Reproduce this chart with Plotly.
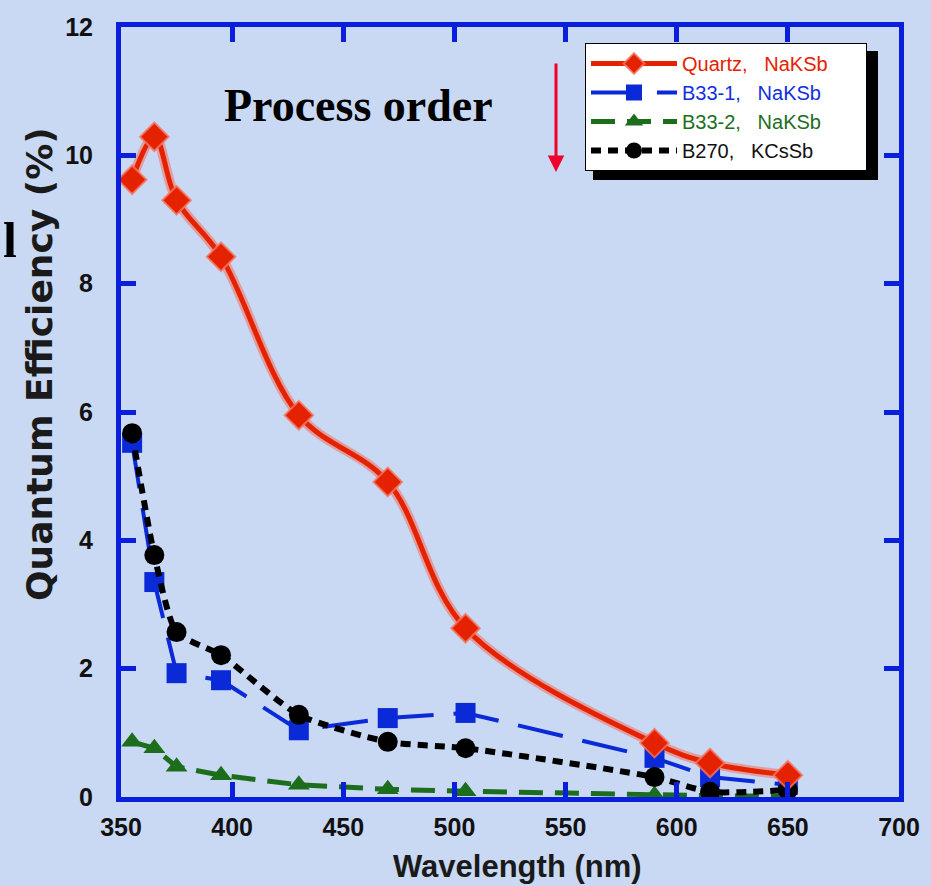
import plotly.graph_objects as go

# ---- data ----
wavelength = [355, 365, 375, 395, 430, 470, 505, 590, 615, 650]
quartz_naksb = [9.62, 10.29, 9.30, 8.42, 5.95, 4.91, 2.63, 0.84, 0.53, 0.34]
b33_1_naksb = [5.52, 3.35, 1.93, 1.82, 1.04, 1.23, 1.31, 0.61, 0.31, 0.19]
b33_2_naksb = [0.86, 0.76, 0.47, 0.34, 0.19, 0.12, 0.09, 0.03, 0.02, 0.01]
b270_kcssb = [5.67, 3.77, 2.57, 2.21, 1.28, 0.86, 0.76, 0.31, 0.08, 0.11]

series_names = ["Quartz, NaKSb", "B33-1, NaKSb", "B33-2, NaKSb", "B270, KCsSb"]

x_ticks = [350, 400, 450, 500, 550, 600, 650, 700]
y_ticks = [0, 2, 4, 6, 8, 10, 12]

W, H = 931, 886
L, R, T, B = 121, 32, 27, 89
PW, PH = W - L - R, H - T - B


def px(x):
    return (x - L) / PW


def py(y):
    return (H - B - y) / PH


def legend_label(name, color):
    a, b = name.split(", ")
    return (f"<span style='color:{color}'>{a},\u00a0\u00a0\u00a0{b}</span>"
            + "\u00a0" * 6)


BG = "#c9d8f3"
BLUE_AX = "#0a1fdc"
RED = "#e42200"
BLUE = "#0a2ad8"
GREEN = "#1c6e1c"
BLACK = "#000000"

fig = go.Figure()

# halo under the quartz curve
fig.add_trace(go.Scatter(
    x=wavelength, y=quartz_naksb, mode="lines",
    line=dict(color="rgba(245,110,90,0.55)", width=10, shape="spline", smoothing=1.0),
    showlegend=False, hoverinfo="skip"))

fig.add_trace(go.Scatter(
    x=wavelength, y=b33_2_naksb, mode="lines+markers",
    name=legend_label(series_names[2], "#1c6e1c"),
    line=dict(color=GREEN, width=5, dash="24px,12px"),
    marker=dict(symbol="triangle-up", size=19, color=GREEN),
    legendrank=3))

fig.add_trace(go.Scatter(
    x=wavelength, y=b33_1_naksb, mode="lines+markers",
    name=legend_label(series_names[1], "#1030e0"),
    line=dict(color=BLUE, width=4, dash="46px,20px"),
    marker=dict(symbol="square", size=20, color=BLUE),
    legendrank=2))

fig.add_trace(go.Scatter(
    x=wavelength, y=b270_kcssb, mode="lines+markers",
    name=legend_label(series_names[3], "#111111"),
    line=dict(color=BLACK, width=6, dash="10px,7px", shape="spline", smoothing=0.6),
    marker=dict(symbol="circle", size=20, color=BLACK),
    legendrank=4))

fig.add_trace(go.Scatter(
    x=wavelength, y=quartz_naksb, mode="lines+markers",
    name=legend_label(series_names[0], "#e42200"),
    line=dict(color=RED, width=5, shape="spline", smoothing=1.0),
    marker=dict(symbol="diamond", size=22, color=RED,
                line=dict(color="rgba(245,120,100,0.8)", width=2)),
    legendrank=1))

axis_common = dict(
    showline=True, linewidth=5, linecolor=BLUE_AX, mirror="ticks",
    ticks="inside", ticklen=15, tickwidth=5, tickcolor=BLUE_AX,
    showgrid=False, zeroline=False,
    tickfont=dict(family="Liberation Sans", size=25, color="#111111", weight="bold"),
)

fig.update_xaxes(range=[350, 700], tickvals=x_ticks, ticktext=[str(v) for v in x_ticks],
                 ticklabelstandoff=4, **axis_common)
fig.update_yaxes(range=[0, 12], tickvals=y_ticks, ticktext=[str(v) for v in y_ticks],
                 ticklabelstandoff=18, **axis_common)

annotations = [
    dict(text="Process order", x=px(222), y=py(106), xref="paper", yref="paper",
         xanchor="left", yanchor="middle", showarrow=False,
         font=dict(family="Liberation Serif", size=46, color="#000000", weight="bold")),
    dict(text="l", x=px(1), y=py(240), xref="paper", yref="paper",
         xanchor="left", yanchor="middle", showarrow=False,
         font=dict(family="Liberation Serif", size=50, color="#000000", weight="bold")),
    dict(text="", x=px(556), y=py(172), xref="paper", yref="paper",
         ax=0, ay=-110, axref="pixel", ayref="pixel",
         showarrow=True, arrowhead=2, arrowsize=1.1, arrowwidth=3, arrowcolor="#f0002a"),
    dict(text="Quantum Efficiency (%)", x=px(39), y=py(364), xref="paper", yref="paper",
         xanchor="center", yanchor="middle", textangle=-90, showarrow=False,
         font=dict(family="DejaVu Sans", size=36, color="#1a1a1a", weight="bold")),
    dict(text="Wavelength (nm)", x=px(517), y=py(866), xref="paper", yref="paper",
         xanchor="center", yanchor="middle", showarrow=False,
         font=dict(family="Liberation Sans", size=31, color="#1a1a1a", weight="bold")),
]

shapes = [
    dict(type="rect", xref="paper", yref="paper",
         x0=px(593), x1=px(878), y0=py(180), y1=py(51),
         fillcolor="#000000", line=dict(width=0), layer="above"),
]

fig.update_layout(
    width=W, height=H,
    margin=dict(l=L, r=R, t=T, b=B),
    paper_bgcolor=BG, plot_bgcolor=BG,
    showlegend=True,
    legend=dict(x=px(585), y=py(43), xanchor="left", yanchor="top",
                bgcolor="#ffffff", bordercolor="#000000", borderwidth=1,
                font=dict(family="Liberation Sans", size=20),
                itemwidth=86, tracegroupgap=0, traceorder="normal"),
    annotations=annotations,
    shapes=shapes,
)

fig.write_html("out.html")
